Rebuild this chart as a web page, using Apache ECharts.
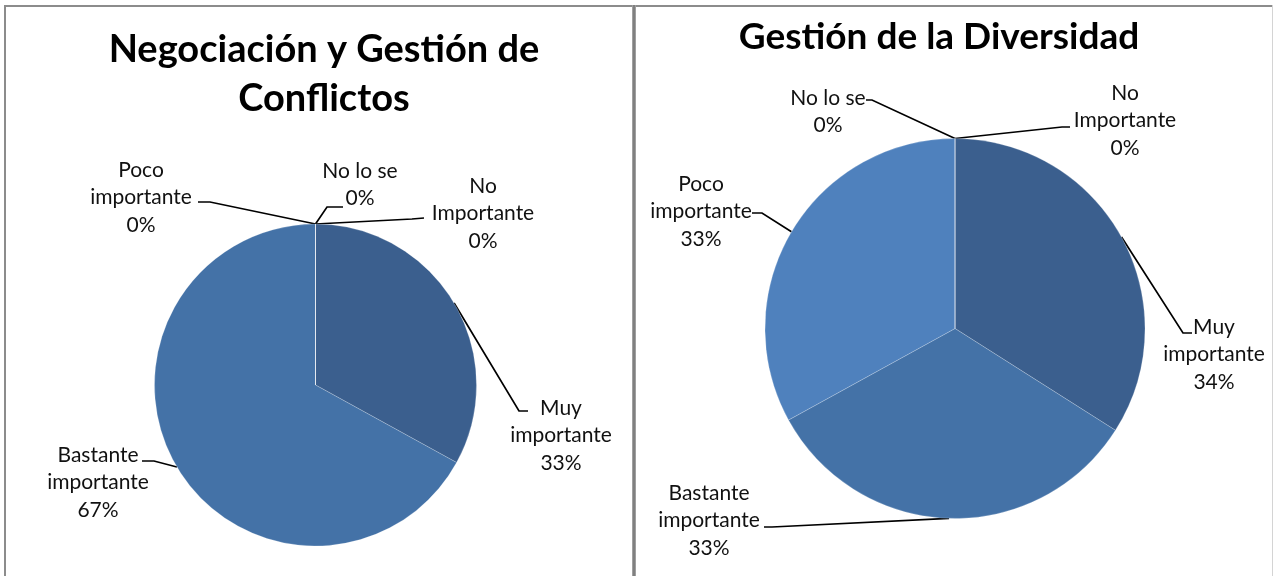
<!DOCTYPE html>
<html>
<head>
<meta charset="utf-8">
<script src="https://cdn.jsdelivr.net/npm/echarts@6/dist/echarts.min.js"></script>
<style>
  html, body { margin: 0; padding: 0; background: #fff; }
  #main { width: 1274px; height: 576px; }
</style>
</head>
<body>
<div id="main"></div>
<script>
// categories, same order in both pies (clockwise from 12 o'clock)
var categories = ['Muy\nimportante', 'Bastante\nimportante', 'Poco\nimportante', 'No lo se', 'No\nImportante'];
var negociacionValues = [33, 67, 0, 0, 0];
var diversidadValues = [34, 33, 33, 0, 0];
var titles = ['Negociación y Gestión de\nConflictos', 'Gestión de la Diversidad'];

var sliceColors = ['#3b5f8e', '#4472a7', '#4f81bd', '#4f81bd', '#3b5f8e'];

// label spots: [centre x, top y, bend x, bend y, end x, end y]
var spots = [
    [
        [561, 394, 519, 411, 528, 411],
        [98, 441, 154, 461, 142, 461],
        [141, 156, 210, 202, 198, 202],
        [360, 157, 327, 207, 343, 207],
        [483, 172, 412, 219, 424, 218]
    ],
    [
        [1214, 313, 1183, 333, 1192, 333],
        [709, 479, 772, 527, 764, 527],
        [701, 170, 762, 213, 752, 213],
        [828, 84, 872, 100, 866, 100],
        [1125, 79, 1062, 127, 1070, 127]
    ]
];

var font = 'Lato, "Open Sans", sans-serif';

function _each(arr, fn){ for (var i = 0; i < arr.length; i++) fn(arr[i], i); }

function buildData(values){
    var data = [];
    _each(values, function(v, i){
        data.push({name: categories[i], value: v, itemStyle: {color: sliceColors[i]}});
    });
    return data;
}

function placeLabel(p){
    var s = spots[p.seriesIndex][p.dataIndex];
    var start = p.labelLinePoints ? p.labelLinePoints[0] : [s[2], s[3]];
    return {
        x: s[0],
        y: s[1],
        align: 'center',
        verticalAlign: 'top',
        labelLinePoints: [start, [s[2], s[3]], [s[4], s[5]]]
    };
}

function pieSeries(values, center, radius){
    return {
        type: 'pie',
        center: center,
        radius: radius,
        startAngle: 90,
        clockwise: true,
        percentPrecision: 0,
        avoidLabelOverlap: false,
        silent: true,
        animation: false,
        itemStyle: {borderColor: 'rgba(255,255,255,0.35)', borderWidth: 0.6},
        label: {
            show: true,
            position: 'outside',
            formatter: '{b}\n{d}%',
            fontFamily: font,
            fontSize: 21,
            lineHeight: 27.5,
            color: '#111',
            align: 'center'
        },
        labelLine: {
            show: true,
            lineStyle: {color: '#000', width: 1.7}
        },
        labelLayout: placeLabel,
        data: buildData(values)
    };
}

var chart = echarts.init(document.getElementById('main'));
chart.setOption({
    backgroundColor: '#fff',
    graphic: [
        {type: 'rect', shape: {x: 4, y: 5, width: 1269, height: 2}, style: {fill: '#8c8c8c'}},
        {type: 'rect', shape: {x: 4, y: 5, width: 2, height: 571}, style: {fill: '#8c8c8c'}},
        {type: 'rect', shape: {x: 632, y: 5, width: 4, height: 571}, style: {fill: '#a0a0a0'}},
        {type: 'rect', shape: {x: 633, y: 5, width: 2, height: 571}, style: {fill: '#808080'}},
        {type: 'rect', shape: {x: 1272, y: 5, width: 1, height: 571}, style: {fill: '#d4d4d4'}},
        {type: 'text', x: 324, y: 74, style: {
            text: titles[0], align: 'center', verticalAlign: 'middle',
            fontFamily: font, fontSize: 38, fontWeight: 'bold', lineHeight: 49, fill: '#000'}},
        {type: 'text', x: 939, y: 37, style: {
            text: titles[1], align: 'center', verticalAlign: 'middle',
            fontFamily: font, fontSize: 37, fontWeight: 'bold', lineHeight: 49, fill: '#000'}}
    ],
    series: [
        pieSeries(negociacionValues, [315.5, 385], 161),
        pieSeries(diversidadValues, [955, 328.5], 190)
    ]
});
</script>
</body>
</html>
